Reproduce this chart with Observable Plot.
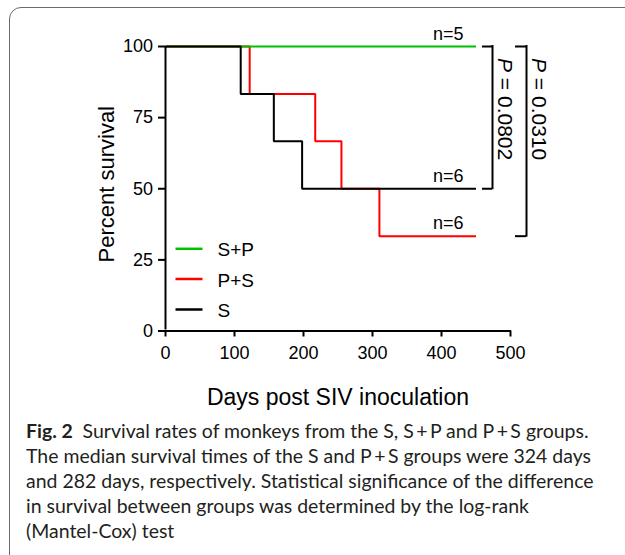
<!DOCTYPE html>
<html><head><meta charset="utf-8">
<script src="https://cdn.jsdelivr.net/npm/d3@7"></script>
<script src="https://cdn.jsdelivr.net/npm/@observablehq/plot@0.6"></script>
<style>
html,body{margin:0;padding:0;background:#fff;overflow:hidden;width:625px;height:555px;}
#frame{position:absolute;left:9px;top:7px;width:700px;height:600px;border:1.5px solid #6b6b6b;border-radius:12px;box-sizing:border-box;}
#chart{position:absolute;left:0;top:0;}
#caption{position:absolute;left:26px;top:418px;font-family:Lato,"Open Sans",sans-serif;font-size:19.5px;line-height:25px;color:#231f20;white-space:nowrap;}
#caption div{transform-origin:0 50%;width:max-content;}
</style></head><body>
<div id="frame"></div>
<div id="chart"></div>
<div id="caption"></div>
<script>
// ---- data ----
const groups = ["S+P", "P+S", "S"];
const groupColors = ["#00c000", "#ff0000", "#000000"];
const groupN = [5, 6, 6];
const spDays = [0, 450];
const spSurv = [100, 100];
const psDays = [0, 122, 217, 255, 310, 450];
const psSurv = [100, 83.33, 66.67, 50, 33.33, 33.33];
const sDays = [0, 109, 157, 198, 450];
const sSurv = [100, 83.33, 66.67, 50, 50];
const xTicks = [0, 100, 200, 300, 400, 500];
const yTicks = [0, 25, 50, 75, 100];
const xLabel = "Days post SIV inoculation";
const yLabel = "Percent survival";
const comparisons = [
  {a: "S+P", b: "S", p: "0.0802"},
  {a: "S+P", b: "P+S", p: "0.0310"}
];
const captionBold = "Fig. 2";
const captionLines = [
  "Survival rates of monkeys from the S, S\u2009+\u2009P and P\u2009+\u2009S groups.",
  "The median survival times of the S and P\u2009+\u2009S groups were 324 days",
  "and 282 days, respectively. Statistical significance of the difference",
  "in survival between groups was determined by the log-rank",
  "(Mantel-Cox) test"
];

// ---- build tables ----
const series = {"S+P": [spDays, spSurv], "P+S": [psDays, psSurv], "S": [sDays, sSurv]};
const rows = groups.flatMap(g => series[g][0].map((d, i) => ({group: g, day: d, surv: series[g][1][i]})));
const ends = groups.map((g, i) => {
  const [ds, ss] = series[g];
  return {group: g, n: groupN[i], day: ds[ds.length - 1], surv: ss[ss.length - 1]};
});
const endOf = g => ends.find(e => e.group === g);
const brackets = comparisons.map(c => {
  const A = endOf(c.a), B = endOf(c.b);
  return {x: Math.max(A.day, B.day), yTop: Math.max(A.surv, B.surv), yBottom: Math.min(A.surv, B.surv), p: c.p};
});

// styling offsets (pixels)
const bracketTick = [[6.5, 16.5], [39.5, 50.5]];
const bracketText = [28.5, 63];
const legendDy = [-82.2, -52, -21.5];

const lineSym = {draw(ctx) { ctx.moveTo(-13.5, 0); ctx.lineTo(13.5, 0); }};

const drawOrder = ["P+S", "S+P", "S"];
const marks = [];
drawOrder.forEach(g => marks.push(Plot.line(rows.filter(r => r.group === g), {
  x: "day", y: "surv", stroke: "group", curve: "step-after", strokeWidth: 2,
  strokeLinejoin: "miter", strokeLinecap: "butt"
})));
// axes lines
marks.push(Plot.ruleX([0], {y1: 0, y2: 100, strokeWidth: 2, insetTop: -1}));
marks.push(Plot.ruleY([0], {x1: 0, x2: 500, strokeWidth: 2, insetRight: -1}));
marks.push(Plot.axisY({ticks: yTicks, tickSize: 7, tickPadding: 5.5, fontSize: 18, strokeWidth: 2, label: null}));
marks.push(Plot.axisX({ticks: xTicks, tickSize: 6, tickPadding: 9, fontSize: 18, strokeWidth: 2, label: null}));
// n labels
marks.push(Plot.text(ends, {x: "day", y: "surv", text: d => "n=" + d.n, textAnchor: "end", lineAnchor: "middle", dx: -12.5, dy: -12.5, fontSize: 18}));
// brackets
brackets.forEach((b, i) => {
  const [l, r] = bracketTick[i];
  marks.push(Plot.ruleY([b], {x1: "x", x2: "x", y: "yTop", insetLeft: l, insetRight: -r, strokeWidth: 2}));
  marks.push(Plot.ruleY([b], {x1: "x", x2: "x", y: "yBottom", insetLeft: l, insetRight: -r, strokeWidth: 2}));
  marks.push(Plot.ruleX([b], {x: "x", y1: "yTop", y2: "yBottom", dx: r, insetTop: -1, insetBottom: -1, strokeWidth: 2}));
  marks.push(Plot.text([b], {x: "x", y: "yTop", text: d => "P = " + d.p, rotate: 90, textAnchor: "start", lineAnchor: "middle", dx: bracketText[i], dy: 11.5, fontSize: 21}));
});
// legend
groups.forEach((g, i) => {
  marks.push(Plot.dot([g], {frameAnchor: "bottom-left", dx: 23.5, dy: legendDy[i], symbol: lineSym, r: 5, fill: "none", stroke: groupColors[i], strokeWidth: 2.5}));
  marks.push(Plot.text([g], {frameAnchor: "bottom-left", text: d => d, dx: 52, dy: legendDy[i] + 1.5, textAnchor: "start", lineAnchor: "middle", fontSize: 19}));
});
// axis titles
marks.push(Plot.text([yLabel], {frameAnchor: "left", text: d => d, rotate: -90, dx: -59, dy: -4.5, fontSize: 22, textAnchor: "middle", lineAnchor: "middle"}));
marks.push(Plot.text([xLabel], {frameAnchor: "bottom", text: d => d, dy: 67, fontSize: 23, textAnchor: "middle", lineAnchor: "middle"}));

const chart = Plot.plot({
  width: 625, height: 410,
  marginLeft: 165, marginRight: 115, marginTop: 46, marginBottom: 79.5,
  x: {domain: [0, 500]},
  y: {domain: [0, 100]},
  color: {domain: groups, range: groupColors},
  style: {background: "transparent", fontFamily: "'Liberation Sans', Arial, sans-serif", color: "#000", overflow: "visible"},
  marks
});
document.getElementById("chart").append(chart);

// italic P in p-value labels
chart.querySelectorAll("text").forEach(t => {
  const s = t.textContent;
  if (s.startsWith("P = ")) {
    t.textContent = "";
    const ns = "http://www.w3.org/2000/svg";
    const a = document.createElementNS(ns, "tspan");
    a.setAttribute("font-style", "italic");
    a.textContent = "P";
    const b = document.createElementNS(ns, "tspan");
    b.textContent = s.slice(1);
    t.append(a, b);
  }
});

// caption
const cap = document.getElementById("caption");
captionLines.forEach((line, i) => {
  const div = document.createElement("div");
  if (i === 0) {
    const b = document.createElement("b");
    b.textContent = captionBold;
    div.append(b, document.createTextNode("\u2002" + line));
  } else div.textContent = line;
  cap.append(div);
});
const fit = () => {
  const targets = [571, 564, 557, 506];
  const divs = [...cap.children];
  divs.forEach(d => d.style.transform = "none");
  let tw = 0, nw = 0;
  targets.forEach((w, i) => { tw += w; nw += divs[i].getBoundingClientRect().width; });
  const k = tw / nw;
  divs.forEach(d => d.style.transform = `scaleX(${k})`);
};
fit();
if (document.fonts && document.fonts.ready) document.fonts.ready.then(fit);
</script>
</body></html>
